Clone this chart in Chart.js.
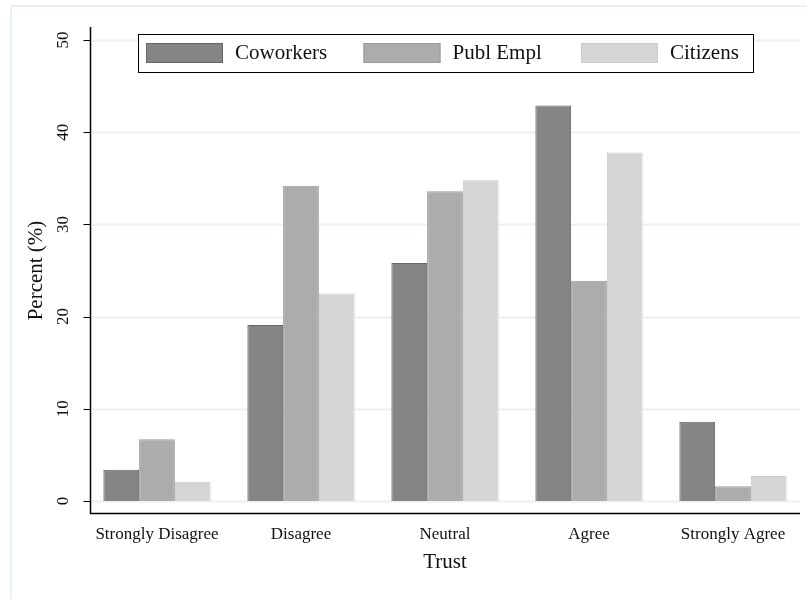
<!DOCTYPE html>
<html>
<head>
<meta charset="utf-8">
<script src="https://cdn.jsdelivr.net/npm/chart.js@4"></script>
<style>
  html, body { margin: 0; padding: 0; background: #fff; }
  #wrap { width: 807px; height: 599px; }
</style>
</head>
<body>
<div id="wrap"><canvas id="trustChart"></canvas></div>
<script>
// values (percent)
const categories = ['Strongly Disagree', 'Disagree', 'Neutral', 'Agree', 'Strongly Agree'];
const seriesNames = ['Coworkers', 'Publ Empl', 'Citizens'];
const coworkers = [3.4, 19.1, 25.8, 42.9, 8.6];
const publEmpl = [6.7, 34.2, 33.6, 23.9, 1.6];
const citizens = [2.1, 22.5, 34.8, 37.8, 2.7];
const yTicks = [0, 10, 20, 30, 40, 50];

const fills = ['#858585', '#acacac', '#d5d5d5'];
const borders = ['#666666', '#9a9a9a', '#cccccc'];
const serif = '"Liberation Serif", "DejaVu Serif", serif';

// Stata-like frame: outer region, grid, axis lines, tick marks, legend box
const stataFrame = {
    id: 'stataFrame',
    beforeDraw(chart) {
        const c = chart.ctx;
        c.save();
        c.strokeStyle = '#e8f0f2';
        c.lineWidth = 2;
        c.beginPath();
        c.moveTo(11, chart.height);
        c.lineTo(11, 6);
        c.lineTo(chart.width, 6);
        c.stroke();
        c.restore();
    },
    beforeDatasetsDraw(chart) {
        const c = chart.ctx, a = chart.chartArea, y = chart.scales.y;
        c.save();
        c.strokeStyle = '#eaf1f3';
        c.lineWidth = 2;
        yTicks.forEach(t => {
            const py = Math.round(y.getPixelForValue(t)) + 0.5;
            c.beginPath();
            c.moveTo(a.left + 5, py);
            c.lineTo(a.right - 5, py);
            c.stroke();
        });
        c.restore();
    },
    afterDatasetsDraw(chart) {
        const c = chart.ctx, a = chart.chartArea, y = chart.scales.y;
        const axX = a.left + 5.5, axY = a.bottom - 0.5;
        c.save();
        c.strokeStyle = '#000';
        c.lineWidth = 1.5;
        c.beginPath();
        c.moveTo(axX, a.top);
        c.lineTo(axX, axY);
        c.lineTo(a.right - 5, axY);
        c.stroke();
        c.lineWidth = 1;
        yTicks.forEach(t => {
            const py = Math.round(y.getPixelForValue(t)) + 0.5;
            c.beginPath();
            c.moveTo(axX - 7, py);
            c.lineTo(axX, py);
            c.stroke();
        });

        // legend
        const box = { x: 138.5, y: 34.5, w: 615, h: 38 };
        c.fillStyle = '#fff';
        c.fillRect(box.x, box.y, box.w, box.h);
        c.strokeStyle = '#000';
        c.lineWidth = 1;
        c.strokeRect(box.x, box.y, box.w, box.h);
        c.font = '21px ' + serif;
        c.textBaseline = 'middle';
        c.textAlign = 'left';
        chart.data.datasets.forEach((ds, i) => {
            const sx = 146 + i * 217.5;
            c.fillStyle = ds.backgroundColor;
            c.fillRect(sx, 43, 77, 20);
            c.strokeStyle = ds.borderColor;
            c.strokeRect(sx + 0.5, 43.5, 76, 19);
            c.fillStyle = '#111';
            c.fillText(ds.label, sx + 89, 53.5);
        });
        c.restore();
    }
};

const ctx = document.getElementById('trustChart').getContext('2d');
const trustChart = new Chart(ctx, {
    type: 'bar',
    data: {
        labels: categories,
        datasets: [coworkers, publEmpl, citizens].map((vals, i) => ({
            label: seriesNames[i],
            data: vals,
            backgroundColor: fills[i],
            borderColor: borders[i],
            borderWidth: 1,
            barPercentage: 1,
            categoryPercentage: 0.745
        }))
    },
    options: {
        responsive: true,
        maintainAspectRatio: false,
        animation: false,
        layout: { padding: { top: 27, right: 2, bottom: 0, left: 0 } },
        plugins: {
            legend: { display: false },
            tooltip: { enabled: false }
        },
        scales: {
            x: {
                grid: { display: false, drawTicks: false },
                border: { display: false },
                ticks: {
                    color: '#111',
                    font: { family: serif, size: 17 },
                    padding: 10,
                    maxRotation: 0,
                    autoSkip: false
                },
                title: {
                    display: true,
                    text: 'Trust',
                    color: '#111',
                    font: { family: serif, size: 21 },
                    padding: { top: 0, bottom: 24 }
                },
                afterFit: s => { s.height = 85; }
            },
            y: {
                min: -1.41,
                max: 51.41,
                grid: { display: false, drawTicks: false },
                border: { display: false },
                afterBuildTicks: s => { s.ticks = yTicks.map(v => ({ value: v })); },
                ticks: {
                    color: '#111',
                    font: { family: serif, size: 17 },
                    minRotation: 90,
                    maxRotation: 90,
                    crossAlign: 'center',
                    padding: 13
                },
                title: {
                    display: true,
                    text: 'Percent (%)',
                    color: '#111',
                    font: { family: serif, size: 21 },
                    padding: { top: 24, bottom: 0 }
                },
                afterFit: s => { s.width = 85; }
            }
        }
    },
    plugins: [stataFrame]
});
</script>
</body>
</html>
